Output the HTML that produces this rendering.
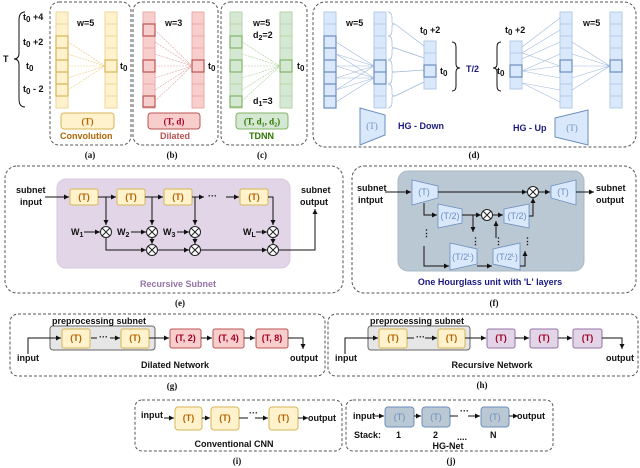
<!DOCTYPE html>
<html><head><meta charset="utf-8"><style>
html,body{margin:0;padding:0;background:#fff;}
svg{display:block;}
text{font-family:"Liberation Sans",sans-serif;font-weight:bold;font-size:9px;fill:#111;}
.s{font-family:"Liberation Serif",serif;font-weight:bold;}
.dash{fill:none;stroke:#555;stroke-width:1;stroke-dasharray:3,2;}
.ln{stroke:#111;stroke-width:1;fill:none;}
</style></head><body>
<svg width="640" height="468" viewBox="0 0 640 468" xmlns="http://www.w3.org/2000/svg">
<defs>
<symbol id="c8" overflow="visible"><rect x="0" y="0" width="12" height="96"/><path d="M0 12h12M0 24h12M0 36h12M0 48h12M0 60h12M0 72h12M0 84h12" fill="none"/></symbol>
<symbol id="c4" overflow="visible"><rect x="0" y="0" width="12" height="48"/><path d="M0 12h12M0 24h12M0 36h12" fill="none"/></symbol>
<marker id="ar" markerWidth="6" markerHeight="6" refX="5" refY="3" orient="auto"><path d="M0,0.5 L5,3 L0,5.5z" fill="#111"/></marker>
<symbol id="ox" overflow="visible"><circle cx="0" cy="0" r="5.5" fill="#fff" stroke="#222"/><path d="M-3.9,-3.9L3.9,3.9M3.9,-3.9L-3.9,3.9" stroke="#222"/></symbol>
</defs>

<!-- ===== (a) ===== -->
<rect class="dash" x="50" y="2" width="81" height="143" rx="9"/>
<path d="M25 12 q-6 0 -6 8 v33 q0 6 -5 6 q5 0 5 6 v34 q0 8 6 8" fill="none" stroke="#111"/>
<text x="3" y="62" font-size="10">T</text>
<text x="23" y="20">t<tspan font-size="8" dy="2">0</tspan><tspan dy="-2"> +4</tspan></text>
<text x="23" y="45">t<tspan font-size="8" dy="2">0</tspan><tspan dy="-2"> +2</tspan></text>
<text x="26" y="69">t<tspan font-size="8" dy="2">0</tspan></text>
<text x="23" y="92">t<tspan font-size="8" dy="2">0</tspan><tspan dy="-2"> - 2</tspan></text>
<use href="#c8" x="56" y="12" fill="#fff2cc" stroke="#ecd69a"/>
<use href="#c8" x="105" y="12" fill="#fff2cc" stroke="#ecd69a"/>
<g fill="none" stroke="#d6b656" stroke-width="1.2"><rect x="56" y="36" width="12" height="60"/><path d="M56 48h12M56 60h12M56 72h12M56 84h12"/><rect x="105" y="60" width="12" height="12"/></g>
<g stroke="#e8c97a" stroke-width="0.6" stroke-dasharray="2,1"><path d="M68 42L105 66M68 54L105 66M68 66L105 66M68 78L105 66M68 90L105 66"/></g>
<text x="120" y="69">t<tspan font-size="8" dy="2">0</tspan></text>
<text x="77" y="26">w=5</text>
<rect x="61" y="113" width="53" height="16" rx="3" fill="#fff2cc" stroke="#d6b656"/>
<text class="s" x="87.5" y="124.5" text-anchor="middle" style="fill:#b46504">(T)</text>
<text x="60" y="139" style="fill:#b46504">Convolution</text>
<text class="s" x="90" y="158" text-anchor="middle">(a)</text>

<!-- ===== (b) ===== -->
<rect class="dash" x="133" y="2" width="85" height="143" rx="9"/>
<use href="#c8" x="143" y="12" fill="#f8cecc" stroke="#eaaaa8"/>
<use href="#c8" x="192" y="12" fill="#f8cecc" stroke="#eaaaa8"/>
<g fill="none" stroke="#b85450" stroke-width="1.2"><rect x="143" y="24" width="12" height="12"/><rect x="143" y="60" width="12" height="12"/><rect x="143" y="96" width="12" height="11"/><rect x="192" y="60" width="12" height="12"/></g>
<g stroke="#e0a0a0" stroke-width="0.6" stroke-dasharray="2,1"><path d="M155 30L192 66M155 42L192 66M155 54L192 66M155 66L192 66M155 78L192 66M155 90L192 66M155 101L192 66"/></g>
<text x="208" y="69">t<tspan font-size="8" dy="2">0</tspan></text>
<text x="165" y="26">w=3</text>
<rect x="148" y="113" width="52" height="16" rx="3" fill="#f8cecc" stroke="#b85450"/>
<text class="s" x="174" y="124.5" text-anchor="middle" style="fill:#a20025">(T, d)</text>
<text x="160" y="139" style="fill:#b85450">Dilated</text>
<text class="s" x="172" y="158" text-anchor="middle">(b)</text>

<!-- ===== (c) ===== -->
<rect class="dash" x="221" y="2" width="86" height="143" rx="9"/>
<use href="#c8" x="230" y="12" fill="#d5e8d4" stroke="#b6d6a6"/>
<use href="#c8" x="280" y="12" fill="#d5e8d4" stroke="#b6d6a6"/>
<g fill="none" stroke="#82b366" stroke-width="1.2"><rect x="230" y="36" width="12" height="12"/><rect x="230" y="60" width="12" height="12"/><rect x="230" y="96" width="12" height="11"/><rect x="280" y="60" width="12" height="12"/></g>
<g stroke="#a8cf98" stroke-width="0.6" stroke-dasharray="2,1"><path d="M242 42L280 66M242 54L280 66M242 66L280 66M242 78L280 66M242 90L280 66M242 101L280 66"/></g>
<text x="297" y="69">t<tspan font-size="8" dy="2">0</tspan></text>
<text x="253" y="26">w=5</text>
<text x="253" y="38">d<tspan font-size="7" dy="2">2</tspan><tspan dy="-2">=2</tspan></text>
<text x="253" y="104">d<tspan font-size="7" dy="2">1</tspan><tspan dy="-2">=3</tspan></text>
<rect x="236" y="113" width="52" height="16" rx="3" fill="#d5e8d4" stroke="#82b366"/>
<text class="s" x="262" y="124.5" text-anchor="middle" style="fill:#2d7600">(T, d<tspan font-size="6" dy="2">1</tspan><tspan dy="-2">, d</tspan><tspan font-size="6" dy="2">2</tspan><tspan dy="-2">)</tspan></text>
<text x="249" y="139" style="fill:#2d7600">TDNN</text>
<text class="s" x="262" y="158" text-anchor="middle">(c)</text>

<!-- ===== (d) ===== -->
<rect class="dash" x="313" y="2" width="323" height="145" rx="12"/>
<use href="#c8" x="324" y="12" fill="#dae8fc" stroke="#b4cbe8"/>
<use href="#c8" x="374" y="12" fill="#dae8fc" stroke="#b4cbe8"/>
<g fill="none" stroke="#6c8ebf" stroke-width="1.2"><rect x="324" y="36" width="12" height="72"/><path d="M324 48h12M324 60h12M324 72h12M324 84h12M324 96h12"/><rect x="374" y="60" width="12" height="24"/><path d="M374 72h12"/></g>
<g stroke="#9fb8da" stroke-width="0.6"><path d="M336 42L374 66M336 54L374 66M336 66L374 66M336 78L374 66M336 90L374 66M336 54L374 78M336 66L374 78M336 78L374 78M336 90L374 78M336 102L374 78"/></g>
<g stroke="#9fb8da" stroke-width="0.7" fill="none"><path d="M388 12q4 0 4 6v4q0 2 3 2q-3 0-3 2v4q0 6-4 6M388 36q4 0 4 6v4q0 2 3 2q-3 0-3 2v4q0 6-4 6M388 60q4 0 4 6v4q0 2 3 2q-3 0-3 2v4q0 6-4 6M388 84q4 0 4 6v4q0 2 3 2q-3 0-3 2v4q0 6-4 6"/><path d="M395 24L424 46M395 48L424 58M395 72L424 70M395 96L424 82"/></g>
<use href="#c4" x="424" y="41" fill="#dae8fc" stroke="#b4cbe8"/>
<rect x="424" y="65" width="12" height="12" fill="none" stroke="#6c8ebf" stroke-width="1.2"/>
<text x="420" y="33">t<tspan font-size="8" dy="2">0</tspan><tspan dy="-2"> +2</tspan></text>
<text x="440" y="74">t<tspan font-size="8" dy="2">0</tspan></text>
<path d="M452 42q4 0 4 5v17q0 4 4 4q-4 0-4 4v14q0 5-4 5" fill="none" stroke="#111"/>
<text x="466" y="72" style="fill:#1a1a80">T/2</text>
<path d="M501 42q-4 0-4 5v17q0 4-4 4q4 0 4 4v14q0 5 4 5" fill="none" stroke="#111"/>
<text x="505" y="33">t<tspan font-size="8" dy="2">0</tspan><tspan dy="-2"> +2</tspan></text>
<text x="497" y="74">t<tspan font-size="8" dy="2">0</tspan></text>
<use href="#c4" x="510" y="41" fill="#dae8fc" stroke="#b4cbe8"/>
<rect x="510" y="65" width="12" height="12" fill="none" stroke="#6c8ebf" stroke-width="1.2"/>
<use href="#c8" x="560" y="12" fill="#dae8fc" stroke="#b4cbe8"/>
<rect x="560" y="60" width="12" height="12" fill="none" stroke="#6c8ebf" stroke-width="1.2"/>
<g stroke="#9fb8da" stroke-width="0.6"><path d="M522 47L560 18M522 53L560 30M522 59L560 42M522 71L560 54M522 71L560 66M522 71L560 78M522 83L560 90M522 83L560 102M522 53L560 66"/></g>
<use href="#c8" x="610" y="12" fill="#dae8fc" stroke="#b4cbe8"/>
<rect x="610" y="60" width="12" height="12" fill="none" stroke="#6c8ebf" stroke-width="1.2"/>
<g stroke="#9fb8da" stroke-width="0.6"><path d="M572 42L610 66M572 54L610 66M572 66L610 66M572 78L610 66M572 90L610 66"/></g>
<text x="583" y="26">w=5</text>
<text x="346" y="26">w=5</text>
<path d="M360 108L385 115V135L360 145Z" fill="#dae8fc" stroke="#6c8ebf"/>
<text class="s" x="372" y="129" text-anchor="middle" style="fill:#6c8ebf;font-weight:normal">(T)</text>
<text x="398" y="129" style="fill:#1a1a80">HG - Down</text>
<path d="M555 118L588 110V145L555 137Z" fill="#dae8fc" stroke="#6c8ebf"/>
<text class="s" x="572" y="131" text-anchor="middle" style="fill:#6c8ebf;font-weight:normal">(T)</text>
<text x="513" y="131" style="fill:#1a1a80">HG - Up</text>
<text class="s" x="474" y="158" text-anchor="middle">(d)</text>

<!-- ===== (e) ===== -->
<rect class="dash" x="5" y="166" width="338" height="127" rx="12"/>
<rect x="57" y="179" width="233" height="89" rx="9" fill="#e1d5e7" stroke="#d8c8e0"/>
<text x="16" y="193">subnet</text><text x="20" y="205">input</text>
<text x="301" y="193">subnet</text><text x="300" y="205">output</text>
<g fill="#fff2cc" stroke="#d6b656"><rect x="70" y="189" width="28" height="16" rx="2"/><rect x="117" y="189" width="28" height="16" rx="2"/><rect x="164" y="189" width="28" height="16" rx="2"/><rect x="240" y="189" width="28" height="16" rx="2"/></g>
<g class="s" font-size="9" text-anchor="middle"><text x="84" y="200" style="fill:#b46504">(T)</text><text x="131" y="200" style="fill:#b46504">(T)</text><text x="178" y="200" style="fill:#b46504">(T)</text><text x="254" y="200" style="fill:#b46504">(T)</text></g>
<g class="ln" marker-end="url(#ar)">
<path d="M45 197H69"/><path d="M98 197H116"/><path d="M145 197H163"/><path d="M192 197H204"/><path d="M226 197H239"/>
<path d="M106 197V225"/><path d="M152 197V225"/><path d="M195 197V225"/><path d="M268 197H273V225"/>
<path d="M84 232H100"/><path d="M131 232H146"/><path d="M177 232H189"/><path d="M256 232H267"/>
<path d="M152 237.5V244"/><path d="M195 237.5V244"/><path d="M273 237.5V244"/>
<path d="M106 237.5V250H146"/><path d="M157.5 250H189"/><path d="M200.5 250H267"/>
<path d="M278.5 250H315V209"/>
</g>
<text x="208" y="199">···</text>
<use href="#ox" x="106" y="232"/><use href="#ox" x="152" y="232"/><use href="#ox" x="195" y="232"/><use href="#ox" x="273" y="232"/>
<use href="#ox" x="152" y="250"/><use href="#ox" x="195" y="250"/><use href="#ox" x="273" y="250"/>
<text x="71" y="235">W<tspan font-size="7" dy="2">1</tspan></text>
<text x="117" y="235">W<tspan font-size="7" dy="2">2</tspan></text>
<text x="163" y="235">W<tspan font-size="7" dy="2">3</tspan></text>
<text x="243" y="235">W<tspan font-size="7" dy="2">L</tspan></text>
<text x="178" y="287" text-anchor="middle" style="fill:#9673a6">Recursive Subnet</text>
<text class="s" x="180" y="306" text-anchor="middle">(e)</text>

<!-- ===== (f) ===== -->
<rect class="dash" x="352" y="166" width="284" height="127" rx="12"/>
<rect x="398" y="171" width="186" height="100" rx="10" fill="#bac8d3" stroke="#a8b8c6"/>
<text x="357" y="191">subnet</text><text x="358" y="203">intput</text>
<text x="596" y="191">subnet</text><text x="596" y="203">output</text>
<g fill="#dae8fc" stroke="#6c8ebf" stroke-width="0.8">
<path d="M412 180L438 186V198L412 205Z"/><path d="M551 186L576 180V205L551 198Z"/>
<path d="M438 204L462 209V223L438 228Z"/><path d="M504 209L529 204V228L504 223Z"/>
<path d="M450 243L477 249V264L450 270Z"/><path d="M493 249L520 243V270L493 264Z"/>
</g>
<g class="s" font-size="8" text-anchor="middle">
<text x="424" y="195" style="fill:#6c8ebf;font-weight:normal">(T)</text><text x="563" y="195" style="fill:#6c8ebf;font-weight:normal">(T)</text>
<text x="450" y="219" style="fill:#6c8ebf;font-weight:normal">(T/2)</text><text x="517" y="219" style="fill:#6c8ebf;font-weight:normal">(T/2)</text>
<text x="463" y="260" style="fill:#6c8ebf;font-weight:normal">(T/2<tspan font-size="5" dy="-3">L</tspan><tspan dy="3">)</tspan></text><text x="507" y="260" style="fill:#6c8ebf;font-weight:normal">(T/2<tspan font-size="5" dy="-3">L</tspan><tspan dy="3">)</tspan></text>
</g>
<g class="ln" marker-end="url(#ar)">
<path d="M385 192H411"/><path d="M438 192H527"/><path d="M538.5 192H550"/><path d="M576 192H594"/>
<path d="M424 203V215H437"/><path d="M462 215H481"/><path d="M492.5 215H503"/>
<path d="M529 216H533V198"/>
<path d="M473 215V232"/><path d="M496 238V221"/>
<path d="M424 246V266H449"/><path d="M477 266H492"/><path d="M520 266H525V251"/>
</g>
<g font-size="8"><text x="422" y="236">⋮</text><text x="471" y="244">⋮</text><text x="494" y="244">⋮</text><text x="523" y="244">⋮</text></g>
<use href="#ox" x="533" y="192"/><use href="#ox" x="487" y="215"/>
<text x="490" y="285" text-anchor="middle" style="fill:#1a1a80">One Hourglass unit with 'L' layers</text>
<text class="s" x="494" y="306" text-anchor="middle">(f)</text>

<!-- ===== (g) ===== -->
<rect class="dash" x="10" y="314" width="315" height="62" rx="8"/>
<rect x="50" y="326" width="105" height="24" rx="3" fill="#e6e6e6" stroke="#666"/>
<text x="52" y="324">preprocessing subnet</text>
<g fill="#fff2cc" stroke="#d6b656"><rect x="62" y="329" width="28" height="19" rx="2"/><rect x="121" y="329" width="28" height="19" rx="2"/></g>
<g fill="#f8cecc" stroke="#b85450"><rect x="170" y="329" width="31" height="19" rx="2"/><rect x="213" y="329" width="31" height="19" rx="2"/><rect x="256" y="329" width="32" height="19" rx="2"/></g>
<g class="s" text-anchor="middle"><text x="76" y="341" style="fill:#b46504">(T)</text><text x="135" y="341" style="fill:#b46504">(T)</text>
<text x="185.5" y="341" style="fill:#a20025">(T, 2)</text><text x="228.5" y="341" style="fill:#a20025">(T, 4)</text><text x="272" y="341" style="fill:#a20025">(T, 8)</text></g>
<g class="ln" marker-end="url(#ar)"><path d="M28 354V338H61"/><path d="M110 338H120"/><path d="M149 338H169"/><path d="M201 338H212"/><path d="M244 338H255"/><path d="M288 338H303V349"/></g>
<path d="M91 338H97" class="ln"/><text x="99" y="340">···</text>
<text x="17" y="361">input</text><text x="290" y="361">output</text>
<text x="175" y="368" text-anchor="middle">Dilated Network</text>
<text class="s" x="172" y="389" text-anchor="middle">(g)</text>

<!-- ===== (h) ===== -->
<rect class="dash" x="328" y="314" width="310" height="62" rx="8"/>
<rect x="368" y="326" width="102" height="24" rx="3" fill="#e6e6e6" stroke="#666"/>
<text x="370" y="324">preprocessing subnet</text>
<g fill="#fff2cc" stroke="#d6b656"><rect x="379" y="329" width="28" height="19" rx="2"/><rect x="438" y="329" width="27" height="19" rx="2"/></g>
<g fill="#e1d5e7" stroke="#9673a6"><rect x="487" y="329" width="28" height="19" rx="2"/><rect x="530" y="329" width="28" height="19" rx="2"/><rect x="573" y="329" width="29" height="19" rx="2"/></g>
<g class="s" text-anchor="middle"><text x="393" y="341" style="fill:#b46504">(T)</text><text x="451.5" y="341" style="fill:#b46504">(T)</text>
<text x="501" y="341" style="fill:#a20025">(T)</text><text x="544" y="341" style="fill:#a20025">(T)</text><text x="587.5" y="341" style="fill:#a20025">(T)</text></g>
<g class="ln" marker-end="url(#ar)"><path d="M345 354V338H378"/><path d="M425 338H437"/><path d="M465 338H486"/><path d="M515 338H529"/><path d="M558 338H572"/><path d="M602 338H622V349"/></g>
<path d="M407 338H414" class="ln"/><text x="416" y="340">···</text>
<text x="335" y="361">input</text><text x="606" y="361">output</text>
<text x="492" y="368" text-anchor="middle">Recursive Network</text>
<text class="s" x="482" y="388" text-anchor="middle">(h)</text>

<!-- ===== (i) ===== -->
<rect class="dash" x="135" y="400" width="207" height="51" rx="7"/>
<g fill="#fff2cc" stroke="#d6b656"><rect x="175" y="407" width="27" height="23" rx="3"/><rect x="211" y="407" width="28" height="23" rx="3"/><rect x="269" y="407" width="29" height="23" rx="3"/></g>
<g class="s" text-anchor="middle"><text x="188.5" y="421" style="fill:#b46504">(T)</text><text x="225" y="421" style="fill:#b46504">(T)</text><text x="283.5" y="421" style="fill:#b46504">(T)</text></g>
<g class="ln" marker-end="url(#ar)"><path d="M164 418H174"/><path d="M202 418H210"/><path d="M255 418H268"/><path d="M298 418H308"/></g>
<path d="M239 418H248" class="ln"/><text x="249" y="416" font-size="6">···</text>
<text x="141" y="418">input</text><text x="308" y="421">output</text>
<text x="234" y="447" text-anchor="middle">Conventional CNN</text>
<text class="s" x="237" y="464" text-anchor="middle">(i)</text>

<!-- ===== (j) ===== -->
<rect class="dash" x="346" y="400" width="207" height="51" rx="7"/>
<g fill="#bac8d3" stroke="#6c8ebf"><rect x="385" y="407" width="29" height="20" rx="3"/><rect x="422" y="407" width="28" height="20" rx="3"/><rect x="481" y="407" width="28" height="20" rx="3"/></g>
<g class="s" text-anchor="middle"><text x="399.5" y="420" style="fill:#6c8ebf;font-weight:normal">(T)</text><text x="436" y="420" style="fill:#6c8ebf;font-weight:normal">(T)</text><text x="495" y="420" style="fill:#6c8ebf;font-weight:normal">(T)</text></g>
<g class="ln" marker-end="url(#ar)"><path d="M374 416H384"/><path d="M414 416H421"/><path d="M468 416H480"/><path d="M509 416H518"/></g>
<path d="M450 416H458" class="ln"/><text x="460" y="414" font-size="6">···</text>
<text x="353" y="419">input</text><text x="517" y="419">output</text>
<text x="354" y="438">Stack:</text><text x="396" y="438">1</text><text x="433" y="438">2</text><text x="457" y="440">....</text><text x="490" y="438">N</text>
<text x="448" y="449" text-anchor="middle">HG-Net</text>
<text class="s" x="451" y="464" text-anchor="middle">(j)</text>
</svg>
</body></html>
